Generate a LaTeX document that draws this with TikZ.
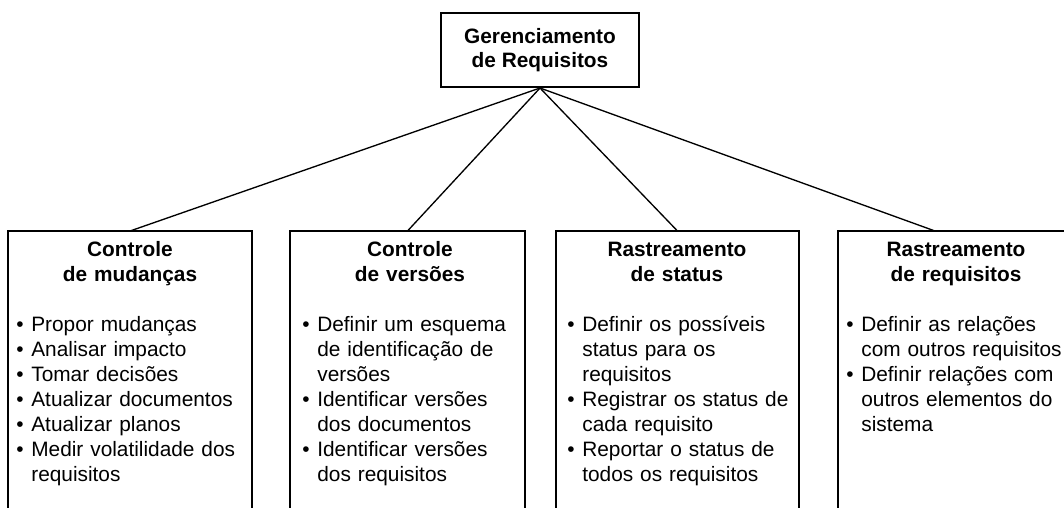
\documentclass[tikz,border=0pt]{standalone}
\usepackage{fontspec}
\setmainfont{Liberation Sans}
\usetikzlibrary{positioning}

\newcommand{\itm}[1]{\noindent\hangindent=9pt\hangafter=1\makebox[9pt][l]{\textbullet}#1\par}

\begin{document}
\begin{tikzpicture}[
            x=0.6pt, y=-0.6pt,
            topbox/.style={rectangle, draw, line width=1.2pt, minimum width=118.8pt,
                           minimum height=44.4pt, align=center, inner sep=0pt,
                           font=\bfseries\fontsize{12.5}{14}\selectfont},
            area/.style={rectangle, draw, line width=1.2pt, anchor=north west,
                         minimum height=180pt, inner sep=0pt, outer sep=0pt},
            title/.style={anchor=base, text width=140pt, align=center, inner sep=0pt,
                          font=\bfseries\fontsize{12.5}{15}\selectfont},
            items/.style={anchor=base west, text width=150pt, align=left, inner sep=0pt,
                          font=\fontsize{12.5}{15}\selectfont},
            link/.style={line width=0.8pt}
        ]
            \useasboundingbox (0,0) rectangle (1064,507);
            \clip (0,0) rectangle (1064,507);

            \node[topbox] (gr) at (540,50) {Gerenciamento\\de Requisitos};

            \node[area, minimum width=146.4pt] (mud) at (8,231) {};
            \node[area, minimum width=141pt] (ver) at (290,231) {};
            \node[area, minimum width=145.8pt] (sta) at (556,231) {};
            \node[area, minimum width=141.6pt] (req) at (838,231) {};
            \coordinate (reqtop) at (935,231);

            \node[title] (mudt) at (130,256) {Controle\\de mudanças};
            \node[title] (vert) at (410,256) {Controle\\de versões};
            \node[title] (stat) at (677,256) {Rastreamento\\de status};
            \node[title] (reqt) at (956,256) {Rastreamento\\de requisitos};

            \node[items] (mudl) at (16,331) {%
                \itm{Propor mudanças}
                \itm{Analisar impacto}
                \itm{Tomar decisões}
                \itm{Atualizar documentos}
                \itm{Atualizar planos}
                \itm{Medir volatilidade dos\newline requisitos}};
            \node[items] (verl) at (302,331) {%
                \itm{Definir um esquema\newline de identificação de\newline versões}
                \itm{Identificar versões\newline dos documentos}
                \itm{Identificar versões\newline dos requisitos}};
            \node[items] (stal) at (567,331) {%
                \itm{Definir os possíveis\newline status para os\newline requisitos}
                \itm{Registrar os status de\newline cada requisito}
                \itm{Reportar o status de\newline todos os requisitos}};
            \node[items] (reql) at (846,331) {%
                \itm{Definir as relações\newline com outros requisitos}
                \itm{Definir relações com\newline outros elementos do\newline sistema}};

            \draw[link] (gr.south) -- (mud.north);
            \draw[link] (gr.south) -- (ver.north);
            \draw[link] (gr.south) -- (sta.north);
            \draw[link] (gr.south) -- (reqtop);
        \end{tikzpicture}
\end{document}
